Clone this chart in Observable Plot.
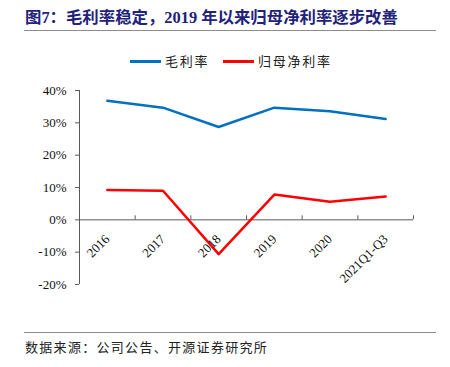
<!DOCTYPE html>
<html><head><meta charset="utf-8">
<script src="https://cdn.jsdelivr.net/npm/d3@7"></script>
<script src="https://cdn.jsdelivr.net/npm/@observablehq/plot@0.6"></script>
<style>
body{margin:0;background:#fff;}
#wrap{position:relative;width:450px;height:367px;overflow:hidden;font-family:"Noto Sans CJK SC",sans-serif;background:#fff;}
#title{position:absolute;left:25px;top:7px;font-size:16.4px;font-weight:bold;color:#22227a;white-space:nowrap;font-family:"Liberation Serif","Noto Sans CJK SC",serif;line-height:22px;}
.rule{position:absolute;left:24px;width:412px;height:0;border-top:1.5px solid #8c8c8c;}
#legend{position:absolute;top:51px;left:130px;font-size:13px;letter-spacing:1.7px;white-space:nowrap;line-height:20px;color:#222;}
#legend .sw{display:inline-block;width:31px;height:3px;vertical-align:middle;margin-right:4px;position:relative;top:-1px;}
#legend .item{display:inline-block;margin-right:14px;}
#chart{position:absolute;left:0;top:80px;}
#chart svg text{font-family:"Liberation Serif","Times New Roman","DejaVu Serif",serif !important;}
#source{position:absolute;left:25px;top:337px;font-size:13px;letter-spacing:1.3px;color:#222;white-space:nowrap;line-height:20px;}
</style></head>
<body>
<div id="wrap">
  <div id="title">图7：毛利率稳定，2019 年以来归母净利率逐步改善</div>
  <div class="rule" style="top:30px"></div>
  <div id="legend"></div>
  <div id="chart"></div>
  <div class="rule" style="top:332px"></div>
  <div id="source">数据来源：公司公告、开源证券研究所</div>
</div>
<script>
const categories = ["2016", "2017", "2018", "2019", "2020", "2021Q1-Q3"];
const grossMargin = [36.8, 34.7, 28.7, 34.7, 33.6, 31.2];
const netMargin = [9.2, 9.0, -10.6, 7.8, 5.6, 7.2];
const yTicks = [-20, -10, 0, 10, 20, 30, 40];
const seriesNames = ["毛利率", "归母净利率"];
const seriesColors = ["#0070C0", "#FF0000"];

const legend = document.getElementById("legend");
seriesNames.forEach((n, i) => {
  const item = document.createElement("span");
  item.className = "item";
  item.innerHTML = `<span class="sw" style="background:${seriesColors[i]}"></span>${n}`;
  legend.appendChild(item);
});

const idx = categories.map((d, i) => i);
const bounds = categories.map((d, i) => i + 0.5);
const axisColor = "#595959";

const chart = Plot.plot({
  width: 450,
  height: 240,
  marginTop: 10,
  marginBottom: 36,
  marginLeft: 79,
  marginRight: 37,
  style: {fontFamily: "Liberation Serif", fontSize: "13px", background: "transparent"},
  x: {domain: [-0.5, categories.length - 0.5], axis: null},
  y: {domain: [-20, 40], axis: null},
  marks: [
    Plot.ruleX([-0.5], {y1: -20, y2: 40, stroke: axisColor}),
    Plot.axisY(yTicks, {anchor: "left", tickSize: 4, tickPadding: 9, tickFormat: d => d + "%", label: null,
      fontSize: 13, stroke: axisColor, fill: "#111"}),
    Plot.ruleY([0], {stroke: axisColor}),
    Plot.ruleX(bounds, {x: d => d, y1: 0, y2: 0, insetTop: -4, stroke: axisColor}),
    Plot.line(idx, {x: i => i, y: i => grossMargin[i], stroke: seriesColors[0], strokeWidth: 2.5}),
    Plot.line(idx, {x: i => i, y: i => netMargin[i], stroke: seriesColors[1], strokeWidth: 2.5}),
    Plot.text(idx, {x: i => i, y: 0, text: i => categories[i], rotate: -45, textAnchor: "end",
      dx: 0, dy: 17, fontSize: 13, fill: "#111"})
  ]
});
document.getElementById("chart").appendChild(chart);
</script>
</body></html>
